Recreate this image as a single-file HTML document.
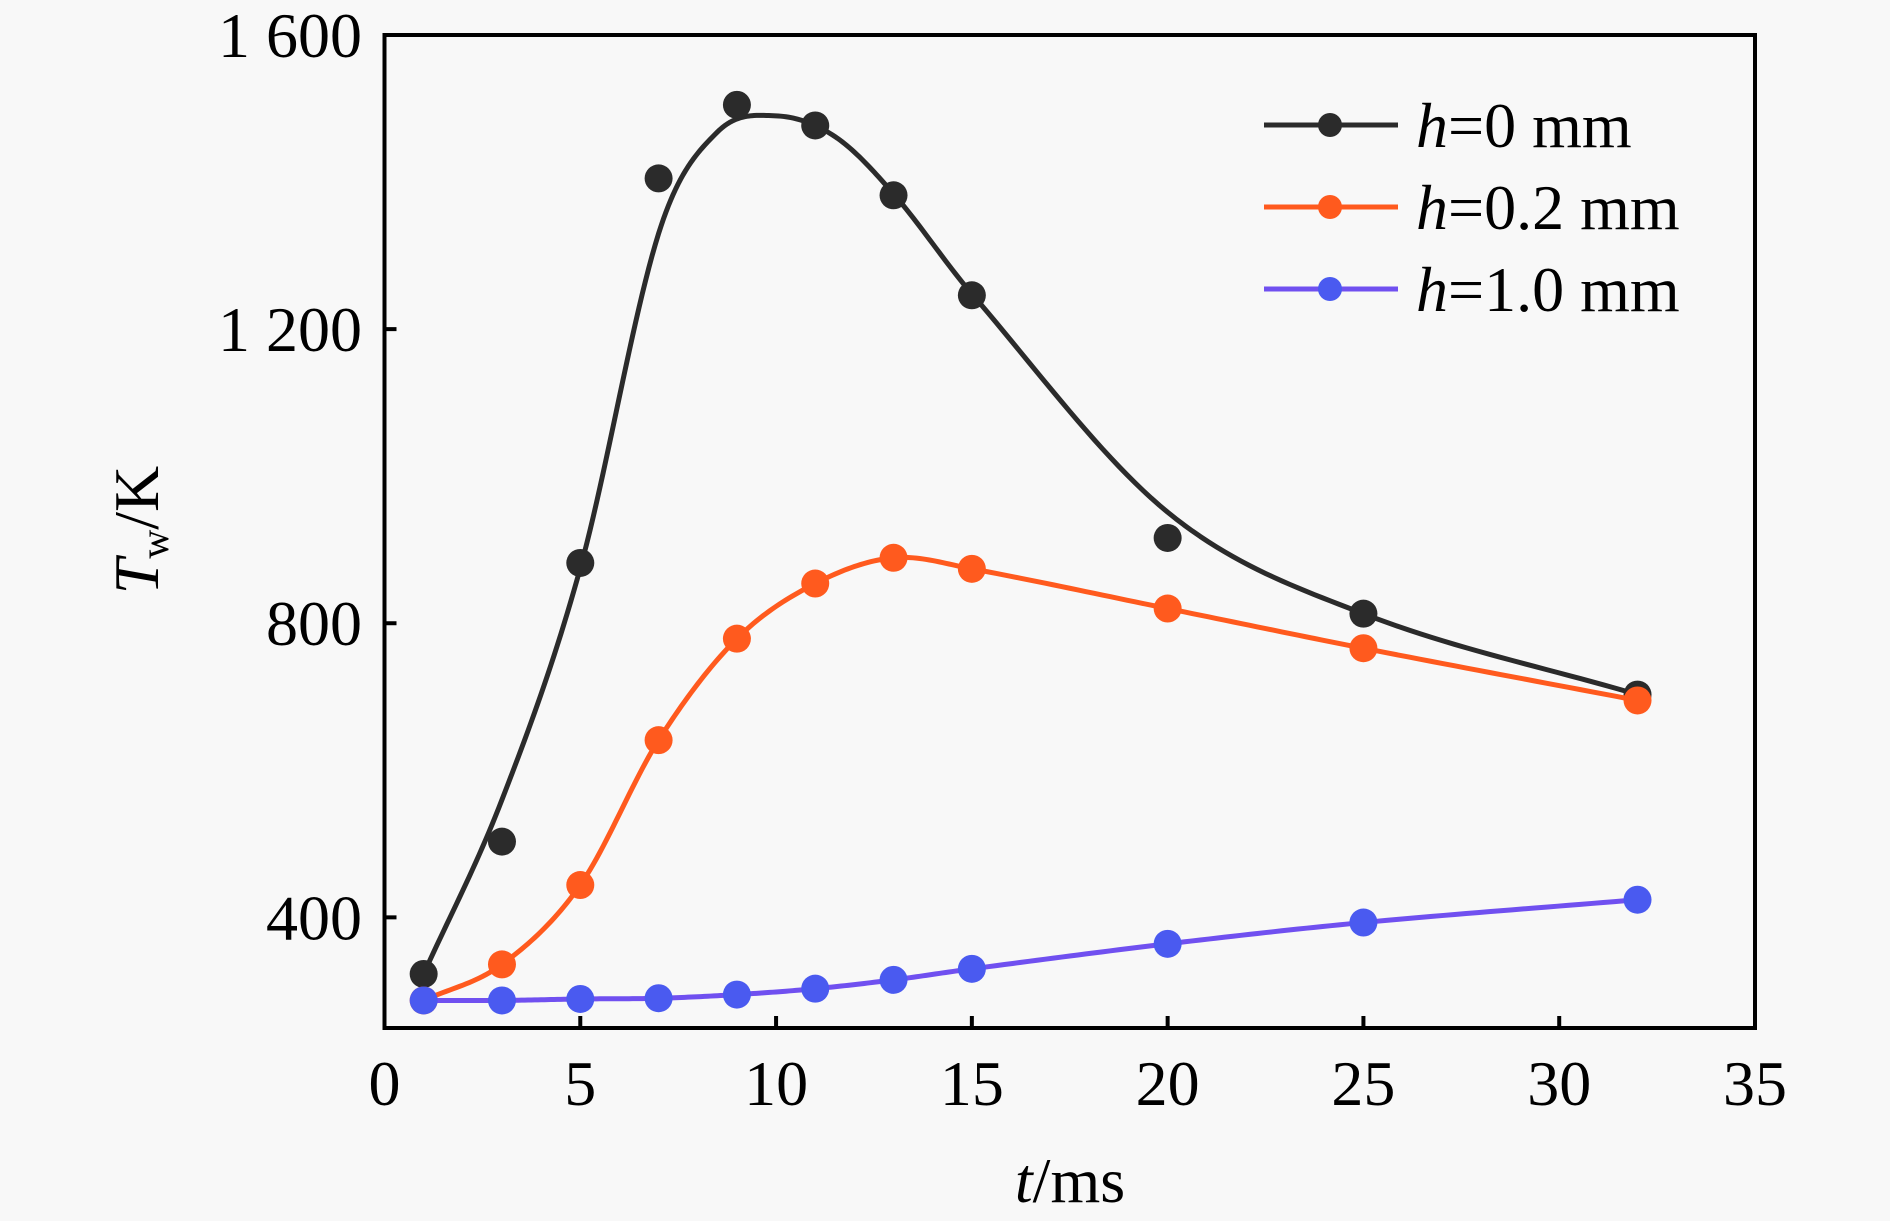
<!DOCTYPE html>
<html><head><meta charset="utf-8"><style>
body{margin:0;background:#f8f8f8;}
svg{display:block;font-family:"Liberation Serif","Times New Roman",serif;}
</style></head><body>
<svg id="chart" width="1890" height="1221" viewBox="0 0 1890 1221">
<rect x="0" y="0" width="1890" height="1221" fill="#f8f8f8"/>
<g id="plot"></g>
</svg>
<script>
const times = [1,3,5,7,9,11,13,15,20,25,32];
const seriesH0 = [323,503,882,1405,1505,1477,1382,1246,916,813,703];
const seriesH02 = [287,336,444,641,779,854,889,874,820,766,695];
const seriesH10 = [287,287,289,290,295,303,315,330,364,393,424];
const fitTimesH0 = [1,3,5,7,8.5,10,11.5,13,15,20,25,32];
const fitH0 = [323,560,875,1330,1468,1490,1462,1384,1248,951,813,703];
const xTicks = [0,5,10,15,20,25,30,35];
const yTicks = [400,800,1200,1600];
const yTickLabels = ["400","800","1 200","1 600"];
const legendLabels = ["=0 mm","=0.2 mm","=1.0 mm"];

const NS="http://www.w3.org/2000/svg";
const L=384.5,R=1755,T=35,B=1028;
const xs=t=>L+(t-0)*(R-L)/35;
const ys=v=>35+(1600-v)*0.7353;
const g=document.getElementById('plot');
function mk(tag,attrs,parent){const e=document.createElementNS(NS,tag);for(const k in attrs)e.setAttribute(k,attrs[k]);(parent||g).appendChild(e);return e;}
function curve(tt,vv){
 const n=tt.length,m=[];
 for(let i=0;i<n;i++){
  if(i===0)m.push((vv[1]-vv[0])/(tt[1]-tt[0]));
  else if(i===n-1)m.push((vv[n-1]-vv[n-2])/(tt[n-1]-tt[n-2]));
  else m.push((vv[i+1]-vv[i-1])/(tt[i+1]-tt[i-1]));
 }
 let d=`M${xs(tt[0])},${ys(vv[0])}`;
 for(let i=0;i<n-1;i++){
  const h=tt[i+1]-tt[i];
  for(let k=1;k<=24;k++){
   const s=k/24,s2=s*s,s3=s2*s;
   const v=(2*s3-3*s2+1)*vv[i]+(s3-2*s2+s)*h*m[i]+(-2*s3+3*s2)*vv[i+1]+(s3-s2)*h*m[i+1];
   d+=` L${xs(tt[i]+s*h).toFixed(2)},${ys(v).toFixed(2)}`;
  }
 }
 return d;
}

const box=mk('rect',{x:L,y:T,width:R-L,height:B-T,fill:'none',stroke:'#000','stroke-width':4});


xTicks.forEach(t=>{
 const tk=mk('line',{x1:xs(t),x2:xs(t),y1:B,y2:B-12,stroke:'#000','stroke-width':4});
 
 
 const lb=mk('text',{x:xs(t),y:1105,'font-size':64,'text-anchor':'middle',fill:'#000'});
 lb.textContent=t;
 
 
});
yTicks.forEach((v,i)=>{
 const tk=mk('line',{x1:L,x2:L+12,y1:ys(v),y2:ys(v),stroke:'#000','stroke-width':4});
 
 
 const lb=mk('text',{x:362,y:ys(v)+22,'font-size':64,'text-anchor':'end',fill:'#000'});
 lb.textContent=yTickLabels[i];
 
 
});
const xt=mk('text',{x:1070,y:1202,'font-size':64,'text-anchor':'middle',fill:'#000'});
xt.innerHTML='<tspan font-style="italic">t</tspan>/ms';


const yt=mk('text',{x:0,y:0,'font-size':64,'text-anchor':'middle',fill:'#000',transform:'translate(158,530) rotate(-90)'});
yt.innerHTML='<tspan font-style="italic">T</tspan><tspan font-size="40" dy="10">w</tspan><tspan dy="-10">/K</tspan>';



const series=[
 {vals:seriesH0,fitT:fitTimesH0,fitV:fitH0,line:'#2b2b2b',mark:'#2b2b2b',name:'h0'},
 {vals:seriesH02,fitT:times,fitV:seriesH02,line:'#ff5a1e',mark:'#ff5a1e',name:'h02'},
 {vals:seriesH10,fitT:times,fitV:seriesH10,line:'#7050f0',mark:'#4a5af0',name:'h10'}
];
series.forEach((s,si)=>{
 const p=mk('path',{d:curve(s.fitT,s.fitV),fill:'none',stroke:s.line,'stroke-width':5,'stroke-linejoin':'round'});
 
 
 s.vals.forEach((v,i)=>{
  const c=mk('circle',{cx:xs(times[i]),cy:ys(v),r:14,fill:s.mark});
  
  
 });
 const ly=125+si*82;
 const ll=mk('line',{x1:1264,x2:1398,y1:ly,y2:ly,stroke:s.line,'stroke-width':5});
 
 
 const lc=mk('circle',{cx:1330,cy:ly,r:12,fill:s.mark});
 
 
 const lt=mk('text',{x:1416,y:ly+22,'font-size':64,fill:'#000'});
 lt.innerHTML='<tspan font-style="italic">h</tspan>'+legendLabels[si];
 
 
});
</script>
</body></html>
